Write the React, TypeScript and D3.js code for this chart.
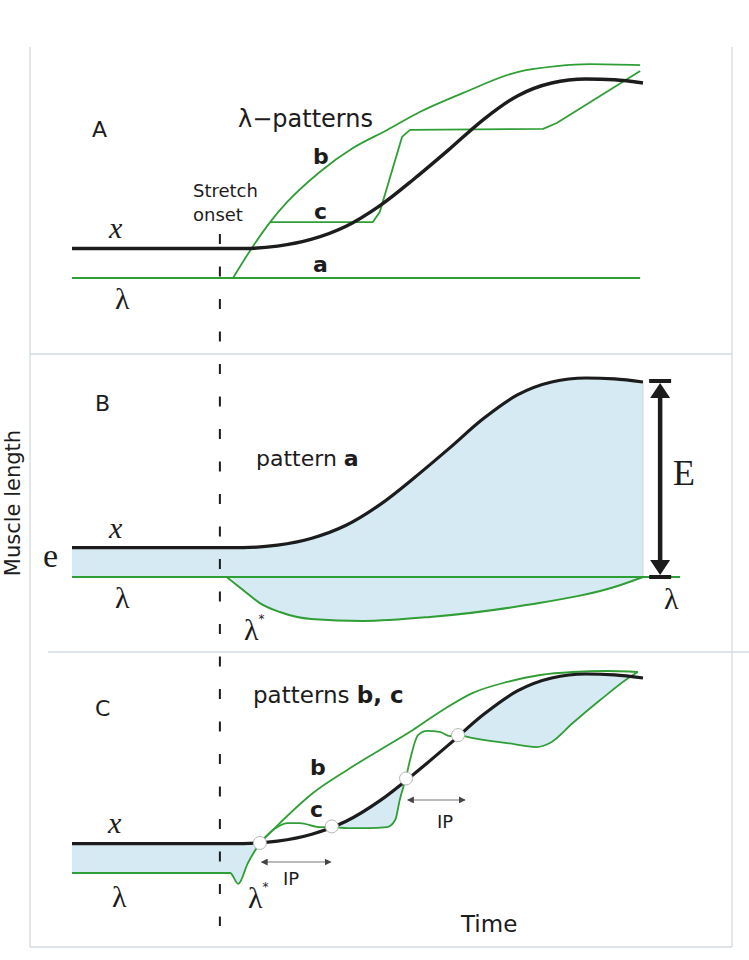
import React, { useEffect, useRef } from "react";
import * as d3 from "d3";

// time in % of the trial, length in % of the stretch amplitude (lambda rest level = 0)
// muscle length x(t), same trajectory in every panel
const xTime = [0, 30, 36, 42, 48, 54, 60, 66, 72, 78, 84, 90, 95, 100];
const xLength = [14.8, 14.8, 16, 19.5, 26, 36.5, 50, 64.5, 79.5, 91.5, 98, 100, 99.6, 98];

// panel A - lambda patterns
const patternATime = [0, 99.5];
const patternALength = [0, 0];
const patternBTime = [28.2, 31.5, 34.7, 37.7, 43.4, 49.2, 55.2, 60.9, 68.5, 78, 84.9, 90.7, 99.5];
const patternBLength = [0, 15.1, 28.1, 38.2, 53.3, 65.3, 74.4, 83.4, 93, 103.5, 106.5, 107.5, 107];
const patternCTime = [34.7, 52.7, 53.9, 57.8, 59.2, 82.5, 84.9, 99.5];
const patternCLength = [28.1, 28.1, 33.2, 70.9, 74.4, 74.9, 77.9, 104];

// panel B - pattern a with the lambda* dip
const restTime = [0, 106.5];
const restLength = [0, 0];
const lambdaStarTime = [27.1, 30.6, 32.9, 36.4, 41.9, 51, 62.7, 79.5, 96.1, 100];
const lambdaStarLength = [0, -8, -13.1, -17.6, -21.1, -22.1, -20.1, -14.1, -4, 0];

// panel C - patterns b, c
const dipTime = [0, 27.7, 29.1, 30.8, 32.9];
const dipLength = [0, 0, -5.5, 5, 15.1];
const cbTime = [32.9, 36.4, 42.2, 48.2, 53.9, 59.7, 64.4, 70.2, 76.2, 82, 87.7, 93.7, 99.1];
const cbLength = [15.1, 25.1, 40.2, 51.8, 61.8, 71.9, 80.9, 90.5, 96, 99.5, 101, 101.5, 101];
const ccTime = [32.9, 35.2, 37.7, 39.9, 43.4, 45.5, 48.2, 51.7, 55.2, 56.6, 57.4, 58.5, 59.2, 60.6, 62.2, 64.4, 66.2, 67.6, 70.2, 76.2, 81.4, 83.7, 87.7, 92.5, 97.7, 99.1];
const ccLength = [15.1, 21.6, 25.1, 25.1, 23.1, 23.1, 22.6, 22.6, 23.1, 26.6, 36.7, 48.2, 56.8, 69.3, 71.4, 70.9, 68.8, 69.3, 67.8, 65.3, 63.3, 65.3, 75.4, 86.9, 98.5, 101];
const crossTime = [32.9, 45.5, 58.5, 67.6];
const crossLength = [15.1, 23.4, 47.5, 69.3];
const ipStart = [33.2, 58.8];
const ipEnd = [45.3, 68.8];
const ipLevel = [5.5, 36.7];

const onsetTime = 25.9;
const eTime = 103;

const green = "#2f9e35";
const blue = "#d6eaf4";
const ink = "#1c1c1c";
const sans = "DejaVu Sans, Arial, sans-serif";
const serif = "Liberation Serif, Times New Roman, serif";

const zip = (t: number[], l: number[]): [number, number][] => t.map((v, i) => [v, l[i]]);

function draw(svg: d3.Selection<SVGSVGElement, unknown, null, undefined>) {
  const tScale = d3.scaleLinear().domain([0, 100]).range([72, 643]);
  const bases = [278, 577, 873];
  const yScales = bases.map((b) => d3.scaleLinear().domain([0, 100]).range([b, b - 199]));
  const [yA, yB, yC] = yScales;

  const lineFor = (y: d3.ScaleLinear<number, number>, curve: d3.CurveFactory = d3.curveMonotoneX) =>
    d3
      .line<[number, number]>()
      .x((d) => tScale(d[0]))
      .y((d) => y(d[1]))
      .curve(curve);

  const defs = svg.append("defs");
  defs
    .append("marker")
    .attr("id", "ip-head")
    .attr("viewBox", "0 0 8 8")
    .attr("refX", 7)
    .attr("refY", 4)
    .attr("markerWidth", 7)
    .attr("markerHeight", 7)
    .attr("markerUnits", "userSpaceOnUse")
    .attr("orient", "auto-start-reverse")
    .append("path")
    .attr("d", "M0,0L8,4L0,8Z")
    .attr("fill", "#444");

  // panel frames
  const frame = svg.append("g").attr("stroke", "#d3dbdf").attr("stroke-width", 1.3);
  [
    [30, 47, 30, 947],
    [732, 47, 732, 947],
    [30, 354, 732, 354],
    [48, 652, 749, 652],
    [30, 947, 732, 947],
  ].forEach((l) => frame.append("line").attr("x1", l[0]).attr("y1", l[1]).attr("x2", l[2]).attr("y2", l[3]));

  const xPts = zip(xTime, xLength);

  // blue area where lambda lies under x
  const fillBetween = (y: d3.ScaleLinear<number, number>, id: string, lam: [number, number][]) => {
    const line = lineFor(y);
    const bottom = y(-60);
    const top = y(160);
    defs
      .append("clipPath")
      .attr("id", id)
      .append("path")
      .attr("d", line(xPts) + `L${tScale(100)},${bottom}L${tScale(0)},${bottom}Z`);
    const last = lam[lam.length - 1][0];
    svg
      .append("path")
      .attr("d", line(lam) + `L${tScale(last)},${top}L${tScale(lam[0][0])},${top}Z`)
      .attr("fill", blue)
      .attr("clip-path", `url(#${id})`);
  };

  const stroke = (
    y: d3.ScaleLinear<number, number>,
    pts: [number, number][],
    color: string,
    w: number,
    curve: d3.CurveFactory = d3.curveMonotoneX
  ) =>
    svg
      .append("path")
      .attr("d", lineFor(y, curve)(pts))
      .attr("fill", "none")
      .attr("stroke", color)
      .attr("stroke-width", w)
      .attr("stroke-linejoin", "round");

  // ---------- panel A
  stroke(yA, zip(patternATime, patternALength), green, 2);
  stroke(yA, zip(patternBTime, patternBLength), green, 1.8);
  stroke(yA, zip(patternCTime, patternCLength), green, 1.8, d3.curveLinear);
  stroke(yA, xPts, ink, 3.4);

  // ---------- panel B
  fillBetween(yB, "clip-b", [[0, 0] as [number, number]].concat(zip(lambdaStarTime, lambdaStarLength)));
  svg
    .append("line")
    .attr("x1", tScale(100))
    .attr("x2", tScale(100))
    .attr("y1", yB(98))
    .attr("y2", yB(0))
    .attr("stroke", "#c4dbe6")
    .attr("stroke-width", 1);
  stroke(yB, zip(restTime, restLength), green, 2);
  stroke(yB, zip(lambdaStarTime, lambdaStarLength), green, 2);
  stroke(yB, xPts, ink, 3.2);

  // E arrow
  const ex = tScale(eTime);
  const eTop = yB(98.5);
  const eBot = yB(0);
  const arrow = svg.append("g").attr("stroke", ink).attr("fill", ink);
  arrow.append("line").attr("x1", ex).attr("x2", ex).attr("y1", eTop + 10).attr("y2", eBot - 10).attr("stroke-width", 4.5);
  arrow.append("line").attr("x1", ex - 11).attr("x2", ex + 11).attr("y1", eTop).attr("y2", eTop).attr("stroke-width", 4);
  arrow.append("line").attr("x1", ex - 11).attr("x2", ex + 11).attr("y1", eBot).attr("y2", eBot).attr("stroke-width", 4);
  arrow
    .append("path")
    .attr("stroke", "none")
    .attr("d", `M${ex},${eTop + 2}L${ex + 10},${eTop + 17}L${ex - 10},${eTop + 17}Z`);
  arrow
    .append("path")
    .attr("stroke", "none")
    .attr("d", `M${ex},${eBot - 2}L${ex + 10},${eBot - 17}L${ex - 10},${eBot - 17}Z`);

  // ---------- panel C
  const lamC = zip(dipTime, dipLength).concat(zip(ccTime, ccLength).slice(1));
  fillBetween(yC, "clip-c", lamC);
  stroke(yC, zip(dipTime, dipLength), green, 1.8);
  stroke(yC, zip(cbTime, cbLength), green, 1.8);
  stroke(yC, zip(ccTime, ccLength), green, 1.8);
  stroke(yC, xPts, ink, 3.2);
  svg
    .append("g")
    .selectAll("circle")
    .data(zip(crossTime, crossLength))
    .enter()
    .append("circle")
    .attr("cx", (d) => tScale(d[0]))
    .attr("cy", (d) => yC(d[1]))
    .attr("r", 6.5)
    .attr("fill", "#fff")
    .attr("stroke", "#b5b5b5")
    .attr("stroke-width", 1);
  ipStart.forEach((s, i) => {
    svg
      .append("line")
      .attr("x1", tScale(s))
      .attr("x2", tScale(ipEnd[i]))
      .attr("y1", yC(ipLevel[i]))
      .attr("y2", yC(ipLevel[i]))
      .attr("stroke", "#777")
      .attr("stroke-width", 1.1)
      .attr("marker-start", "url(#ip-head)")
      .attr("marker-end", "url(#ip-head)");
  });

  // stretch onset
  svg
    .append("line")
    .attr("x1", tScale(onsetTime))
    .attr("x2", tScale(onsetTime))
    .attr("y1", 234)
    .attr("y2", 926)
    .attr("stroke", ink)
    .attr("stroke-width", 2)
    .attr("stroke-dasharray", "10,22.5");

  // ---------- text
  const text = (x: number, y: number, s: string, size: number, opts: { font?: string; weight?: string; style?: string } = {}) =>
    svg
      .append("text")
      .attr("x", x)
      .attr("y", y)
      .attr("font-family", opts.font || sans)
      .attr("font-size", size)
      .attr("font-weight", opts.weight || "normal")
      .attr("font-style", opts.style || "normal")
      .attr("fill", ink)
      .text(s);

  const lamStar = (x: number, y: number) => {
    const t = svg.append("text").attr("x", x).attr("y", y).attr("font-family", serif).attr("font-size", 30).attr("fill", ink);
    t.append("tspan").text("λ");
    t.append("tspan").attr("font-size", 12).attr("dy", -17).attr("font-family", sans).text("*");
  };
  const mixed = (x: number, y: number, plain: string, bold: string, size: number) => {
    const t = svg.append("text").attr("x", x).attr("y", y).attr("font-family", sans).attr("font-size", size).attr("fill", ink);
    t.append("tspan").text(plain);
    t.append("tspan").attr("font-weight", "bold").text(bold);
  };

  // A
  text(92, 137, "A", 22);
  text(238, 127, "λ−patterns", 24);
  text(313, 164, "b", 22, { weight: "bold" });
  text(314, 219, "c", 22, { weight: "bold" });
  text(313, 272, "a", 22, { weight: "bold" });
  text(193, 197, "Stretch", 18);
  text(193, 221, "onset", 18);
  text(109, 238, "x", 30, { font: serif, style: "italic" });
  text(115, 309, "λ", 30, { font: serif });

  // B
  text(95, 411, "B", 22);
  mixed(256, 466, "pattern ", "a", 22);
  text(109, 538, "x", 30, { font: serif, style: "italic" });
  text(43, 567, "e", 34, { font: serif });
  text(115, 608, "λ", 30, { font: serif });
  text(664, 609, "λ", 30, { font: serif });
  lamStar(244, 640);
  text(673, 485, "E", 36, { font: serif });

  // C
  text(95, 716, "C", 22);
  mixed(253, 703, "patterns ", "b, c", 23);
  text(310, 775, "b", 22, { weight: "bold" });
  text(310, 817, "c", 22, { weight: "bold" });
  text(108, 833, "x", 30, { font: serif, style: "italic" });
  text(112, 907, "λ", 30, { font: serif });
  lamStar(248, 908);
  text(283, 885, "IP", 18);
  text(437, 828, "IP", 18);
  text(461, 932, "Time", 23);

  svg
    .append("text")
    .attr("transform", "translate(20,503) rotate(-90)")
    .attr("text-anchor", "middle")
    .attr("font-family", sans)
    .attr("font-size", 21)
    .attr("fill", ink)
    .text("Muscle length");
}

export default function App() {
  const ref = useRef<SVGSVGElement>(null);
  useEffect(() => {
    if (!ref.current) return;
    const svg = d3.select(ref.current);
    svg.selectAll("*").remove();
    draw(svg);
  }, []);
  return (
    <svg
      ref={ref}
      width={749}
      height={960}
      style={{ position: "absolute", left: 0, top: 0, background: "#fff" }}
    />
  );
}
